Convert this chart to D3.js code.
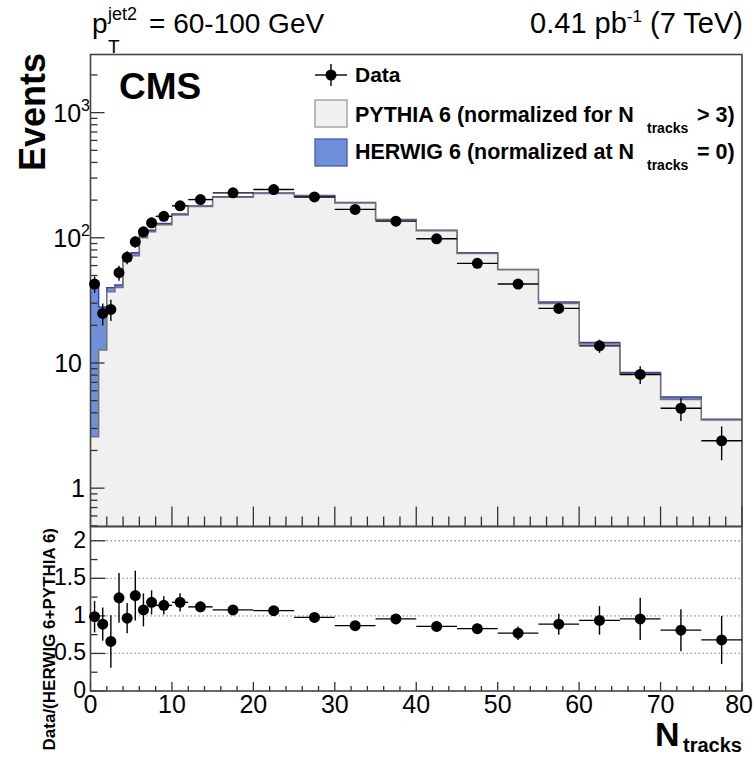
<!DOCTYPE html>
<html>
<head>
<meta charset="utf-8">
<script src="https://cdn.jsdelivr.net/npm/d3@7"></script>
<style>
  html, body { margin: 0; padding: 0; background: #fff; }
  svg text { font-family: "Liberation Sans", Arial, Helvetica, sans-serif; fill: #000; }
</style>
</head>
<body>
<div id="chart"></div>
<script>
// N_tracks binning (variable width bins)
const binEdges = [0, 1, 2, 3, 4, 5, 6, 7, 8, 10, 12, 15, 20, 25, 30, 35, 40, 45, 50, 55, 60, 65, 70, 75, 80];

// data points (events) and their errors
const dataValues = [42.7, 24.9, 26.8, 52.6, 69.8, 92.9, 111.6, 131.8, 148.5, 180, 202, 228.6,
  243, 212, 168.6, 135.9, 98.2, 62.5, 42.7, 27.3, 13.7, 8.1, 4.35, 2.39];
const dataErrors = [6.5, 5.0, 5.2, 7.2, 8.3, 9.6, 10.5, 11.5, 8.6, 9.5, 8.2, 6.8,
  7.0, 6.5, 5.8, 5.2, 4.4, 3.5, 2.9, 2.3, 1.65, 1.3, 0.91, 0.72];

// PYTHIA 6 alone, and the HERWIG 6 + PYTHIA 6 stack top
const pythiaValues = [2.57, 12.7, 37, 40, 66, 72, 100, 112, 127, 152, 178, 211,
  226, 216, 190, 139, 114, 75, 55.5, 29.8, 14.2, 8.2, 5.1, 3.5];
const stackValues = [42, 28, 40, 42, 70, 76, 105, 115, 130, 155, 180, 213,
  228, 218, 192, 140, 115, 76, 56, 30.7, 14.6, 8.4, 5.35, 3.55];

// ratio panel: Data/(HERWIG 6+PYTHIA 6)
const ratioValues = [0.99, 0.89, 0.66, 1.24, 0.97, 1.27, 1.08, 1.18, 1.14, 1.18, 1.12, 1.08,
  1.07, 0.98, 0.87, 0.96, 0.86, 0.83, 0.77, 0.89, 0.94, 0.96, 0.81, 0.68];
const ratioErrors = [0.21, 0.22, 0.35, 0.33, 0.2, 0.33, 0.22, 0.16, 0.12, 0.12, 0.07, 0.05,
  0.04, 0.04, 0.05, 0.06, 0.07, 0.07, 0.09, 0.14, 0.19, 0.28, 0.28, 0.32];

const ratioGrid = [0.5, 1, 1.5, 2];
const ratioTicks = [0, 0.5, 1, 1.5, 2];
const xTicks = [0, 10, 20, 30, 40, 50, 60, 70, 80];

const width = 753, height = 758;
const L = 90.5, R = 742, T = 54.5, MID = 526.5, B = 691;

const x = d3.scaleLinear().domain([0, 80]).range([L, R]);
const y = d3.scaleLog().domain([0.494, 2913]).range([MID, T]);
const yr = d3.scaleLinear().domain([0, 2.19]).range([B, MID]);

const bins = dataValues.map((v, i) => ({
  lo: binEdges[i], hi: binEdges[i + 1],
  val: v, err: dataErrors[i],
  py: pythiaValues[i], st: stackValues[i],
  r: ratioValues[i], re: ratioErrors[i],
}));

const svg = d3.select("#chart").append("svg")
  .attr("width", width).attr("height", height);

const defs = svg.append("defs");
defs.append("clipPath").attr("id", "clipTop")
  .append("rect").attr("x", L).attr("y", T).attr("width", R - L).attr("height", MID - T);

// step points for a histogram
function steps(key) {
  const pts = [];
  bins.forEach((b) => { pts.push([b.lo, b[key]]); pts.push([b.hi, b[key]]); });
  return pts;
}

const gTop = svg.append("g").attr("clip-path", "url(#clipTop)");
const area = d3.area().x((d) => x(d[0])).y0(MID).y1((d) => y(d[1]));
const line = d3.line().x((d) => x(d[0])).y((d) => y(d[1]));

// HERWIG stacked on PYTHIA (drawn first, blue)
gTop.append("path").attr("d", area(steps("st"))).attr("fill", "#6e8fd9");
gTop.append("path").attr("d", line(steps("st"))).attr("fill", "none")
  .attr("stroke", "#3c3cb4").attr("stroke-width", 1.4);
// PYTHIA on top (light grey)
gTop.append("path").attr("d", area(steps("py"))).attr("fill", "#f0f0f0");
gTop.append("path").attr("d", line(steps("py"))).attr("fill", "none")
  .attr("stroke", "#737373").attr("stroke-width", 1.5);

// ratio grid lines
svg.append("g").selectAll("line").data(ratioGrid).join("line")
  .attr("x1", L).attr("x2", R)
  .attr("y1", (d) => yr(d)).attr("y2", (d) => yr(d))
  .attr("stroke", "#999").attr("stroke-width", 1.3).attr("stroke-dasharray", "1.5,2.5");

// ticks
const gTicks = svg.append("g").attr("stroke", "#333").attr("stroke-width", 1.3);
// top panel y (log) ticks
const logMajor = [1, 10, 100, 1000];
const logMinor = [];
[0.1, 1, 10, 100, 1000].forEach((dec) => {
  for (let k = 2; k <= 9; k++) {
    const v = dec * k;
    if (v >= 0.494 && v <= 2913) logMinor.push(v);
  }
});
gTicks.selectAll(".ymaj").data(logMajor).join("line")
  .attr("x1", L).attr("x2", L + 14).attr("y1", (d) => y(d)).attr("y2", (d) => y(d));
gTicks.selectAll(".ymin").data(logMinor).join("line")
  .attr("x1", L).attr("x2", L + 7).attr("y1", (d) => y(d)).attr("y2", (d) => y(d));

// x ticks (top panel bottom edge and ratio bottom edge)
const xMinor = d3.range(0, 81, 2).filter((v) => v % 10 !== 0);
gTicks.selectAll(".xmajT").data(xTicks).join("line")
  .attr("x1", (d) => x(d)).attr("x2", (d) => x(d)).attr("y1", MID).attr("y2", MID - 20);
gTicks.selectAll(".xminT").data(xMinor).join("line")
  .attr("x1", (d) => x(d)).attr("x2", (d) => x(d)).attr("y1", MID).attr("y2", MID - 10);
gTicks.selectAll(".xmajB").data(xTicks).join("line")
  .attr("x1", (d) => x(d)).attr("x2", (d) => x(d)).attr("y1", B).attr("y2", B - 9);
gTicks.selectAll(".xminB").data(xMinor).join("line")
  .attr("x1", (d) => x(d)).attr("x2", (d) => x(d)).attr("y1", B).attr("y2", B - 5);

// ratio y ticks
const rMinor = d3.range(0.25, 2.19, 0.5);
gTicks.selectAll(".rmaj").data(ratioTicks).join("line")
  .attr("x1", L).attr("x2", L + 15).attr("y1", (d) => yr(d)).attr("y2", (d) => yr(d));
gTicks.selectAll(".rmin").data(rMinor).join("line")
  .attr("x1", L).attr("x2", L + 7).attr("y1", (d) => yr(d)).attr("y2", (d) => yr(d));

// frames
const frame = svg.append("g").attr("fill", "none").attr("stroke", "#444").attr("stroke-width", 1.6);
frame.append("rect").attr("x", L).attr("y", T).attr("width", R - L).attr("height", MID - T);
frame.append("rect").attr("x", L).attr("y", MID).attr("width", R - L).attr("height", B - MID);

// data points, top panel
const gData = svg.append("g").attr("stroke", "#000").attr("stroke-width", 1.4);
gData.selectAll(".hbar").data(bins).join("line")
  .attr("x1", (d) => x(d.lo)).attr("x2", (d) => x(d.hi))
  .attr("y1", (d) => y(d.val)).attr("y2", (d) => y(d.val));
gData.selectAll(".vbar").data(bins).join("line")
  .attr("x1", (d) => x((d.lo + d.hi) / 2)).attr("x2", (d) => x((d.lo + d.hi) / 2))
  .attr("y1", (d) => y(d.val - d.err)).attr("y2", (d) => y(d.val + d.err));
svg.append("g").selectAll("circle").data(bins).join("circle")
  .attr("cx", (d) => x((d.lo + d.hi) / 2)).attr("cy", (d) => y(d.val))
  .attr("r", 5.5).attr("fill", "#000");

// data points, ratio panel
const gRatio = svg.append("g").attr("stroke", "#000").attr("stroke-width", 1.4);
gRatio.selectAll(".hbar").data(bins).join("line")
  .attr("x1", (d) => x(d.lo)).attr("x2", (d) => x(d.hi))
  .attr("y1", (d) => yr(d.r)).attr("y2", (d) => yr(d.r));
gRatio.selectAll(".vbar").data(bins).join("line")
  .attr("x1", (d) => x((d.lo + d.hi) / 2)).attr("x2", (d) => x((d.lo + d.hi) / 2))
  .attr("y1", (d) => yr(Math.max(0, d.r - d.re))).attr("y2", (d) => yr(d.r + d.re));
svg.append("g").selectAll("circle").data(bins).join("circle")
  .attr("cx", (d) => x((d.lo + d.hi) / 2)).attr("cy", (d) => yr(d.r))
  .attr("r", 5.5).attr("fill", "#000");

// y tick labels, top panel
const yLab = svg.append("g").attr("font-size", 25).attr("text-anchor", "end");
logMajor.forEach((v) => {
  const t = yLab.append("text").attr("y", y(v) + 9);
  if (v === 1) t.attr("x", 85).text("1");
  else if (v === 10) t.attr("x", 82).text("10");
  else {
    t.attr("x", 90);
    t.append("tspan").text("10");
    t.append("tspan").attr("font-size", 16).attr("dy", -11).text(String(Math.log10(v)));
  }
});

// ratio tick labels
svg.append("g").attr("font-size", 23).attr("text-anchor", "end")
  .selectAll("text").data(ratioTicks).join("text")
  .attr("x", 86).attr("y", (d) => yr(d) + 7)
  .text((d) => String(d));

// x tick labels (last one kept inside the page)
svg.append("g").attr("font-size", 25)
  .selectAll("text").data(xTicks).join("text")
  .attr("x", (d) => (d === 80 ? 753 : x(d)))
  .attr("text-anchor", (d) => (d === 80 ? "end" : "middle"))
  .attr("y", 713)
  .text((d) => String(d));

// axis titles
svg.append("text").attr("transform", "translate(45,53) rotate(-90)")
  .attr("text-anchor", "end").attr("font-size", 36).attr("font-weight", "bold").text("Events");
svg.append("text").attr("transform", "translate(55,528) rotate(-90)")
  .attr("text-anchor", "end").attr("font-size", 17).attr("font-weight", "bold")
  .text("Data/(HERWIG 6+PYTHIA 6)");
svg.append("text").attr("x", 655).attr("y", 746).attr("font-size", 34)
  .attr("font-weight", "bold").text("N");
svg.append("text").attr("x", 683).attr("y", 752).attr("font-size", 20)
  .attr("font-weight", "bold").text("tracks");

// header
svg.append("text").attr("x", 92).attr("y", 33).attr("font-size", 28).text("p");
svg.append("text").attr("x", 108).attr("y", 53).attr("font-size", 19).text("T");
svg.append("text").attr("x", 108).attr("y", 20).attr("font-size", 18).text("jet2");
svg.append("text").attr("x", 149).attr("y", 33).attr("font-size", 28).text("= 60-100 GeV");
const lumi = svg.append("text").attr("x", 743).attr("y", 33).attr("font-size", 29)
  .attr("text-anchor", "end");
lumi.append("tspan").text("0.41 pb");
lumi.append("tspan").attr("font-size", 17).attr("dy", -11).text("-1");
lumi.append("tspan").attr("dy", 11).text(" (7 TeV)");

svg.append("text").attr("x", 119).attr("y", 99).attr("font-size", 37)
  .attr("font-weight", "bold").text("CMS");

// legend
const lg = svg.append("g");
lg.append("line").attr("x1", 315).attr("x2", 347).attr("y1", 75).attr("y2", 75)
  .attr("stroke", "#000").attr("stroke-width", 1.4);
lg.append("line").attr("x1", 331).attr("x2", 331).attr("y1", 64).attr("y2", 86)
  .attr("stroke", "#000").attr("stroke-width", 1.4);
lg.append("circle").attr("cx", 331).attr("cy", 75).attr("r", 5.5).attr("fill", "#000");
lg.append("text").attr("x", 355).attr("y", 82).attr("font-size", 21)
  .attr("font-weight", "bold").text("Data");

lg.append("rect").attr("x", 315).attr("y", 100).attr("width", 32).attr("height", 27)
  .attr("fill", "#f0f0f0").attr("stroke", "#9a9a9a").attr("stroke-width", 1.3);
lg.append("rect").attr("x", 315).attr("y", 139).attr("width", 32).attr("height", 27)
  .attr("fill", "#6e8fd9").attr("stroke", "#4a5aa8").attr("stroke-width", 1.3);

function legendEntry(yb, main, rest) {
  lg.append("text").attr("x", 355).attr("y", yb).attr("font-size", 21.5)
    .attr("font-weight", "bold").text(main);
  lg.append("text").attr("x", 647).attr("y", yb + 11).attr("font-size", 14)
    .attr("font-weight", "bold").text("tracks");
  lg.append("text").attr("x", 697).attr("y", yb).attr("font-size", 21.5)
    .attr("font-weight", "bold").text(rest);
}
legendEntry(122, "PYTHIA 6 (normalized for N", "> 3)");
legendEntry(159, "HERWIG 6 (normalized at N", "= 0)");
</script>
</body>
</html>
